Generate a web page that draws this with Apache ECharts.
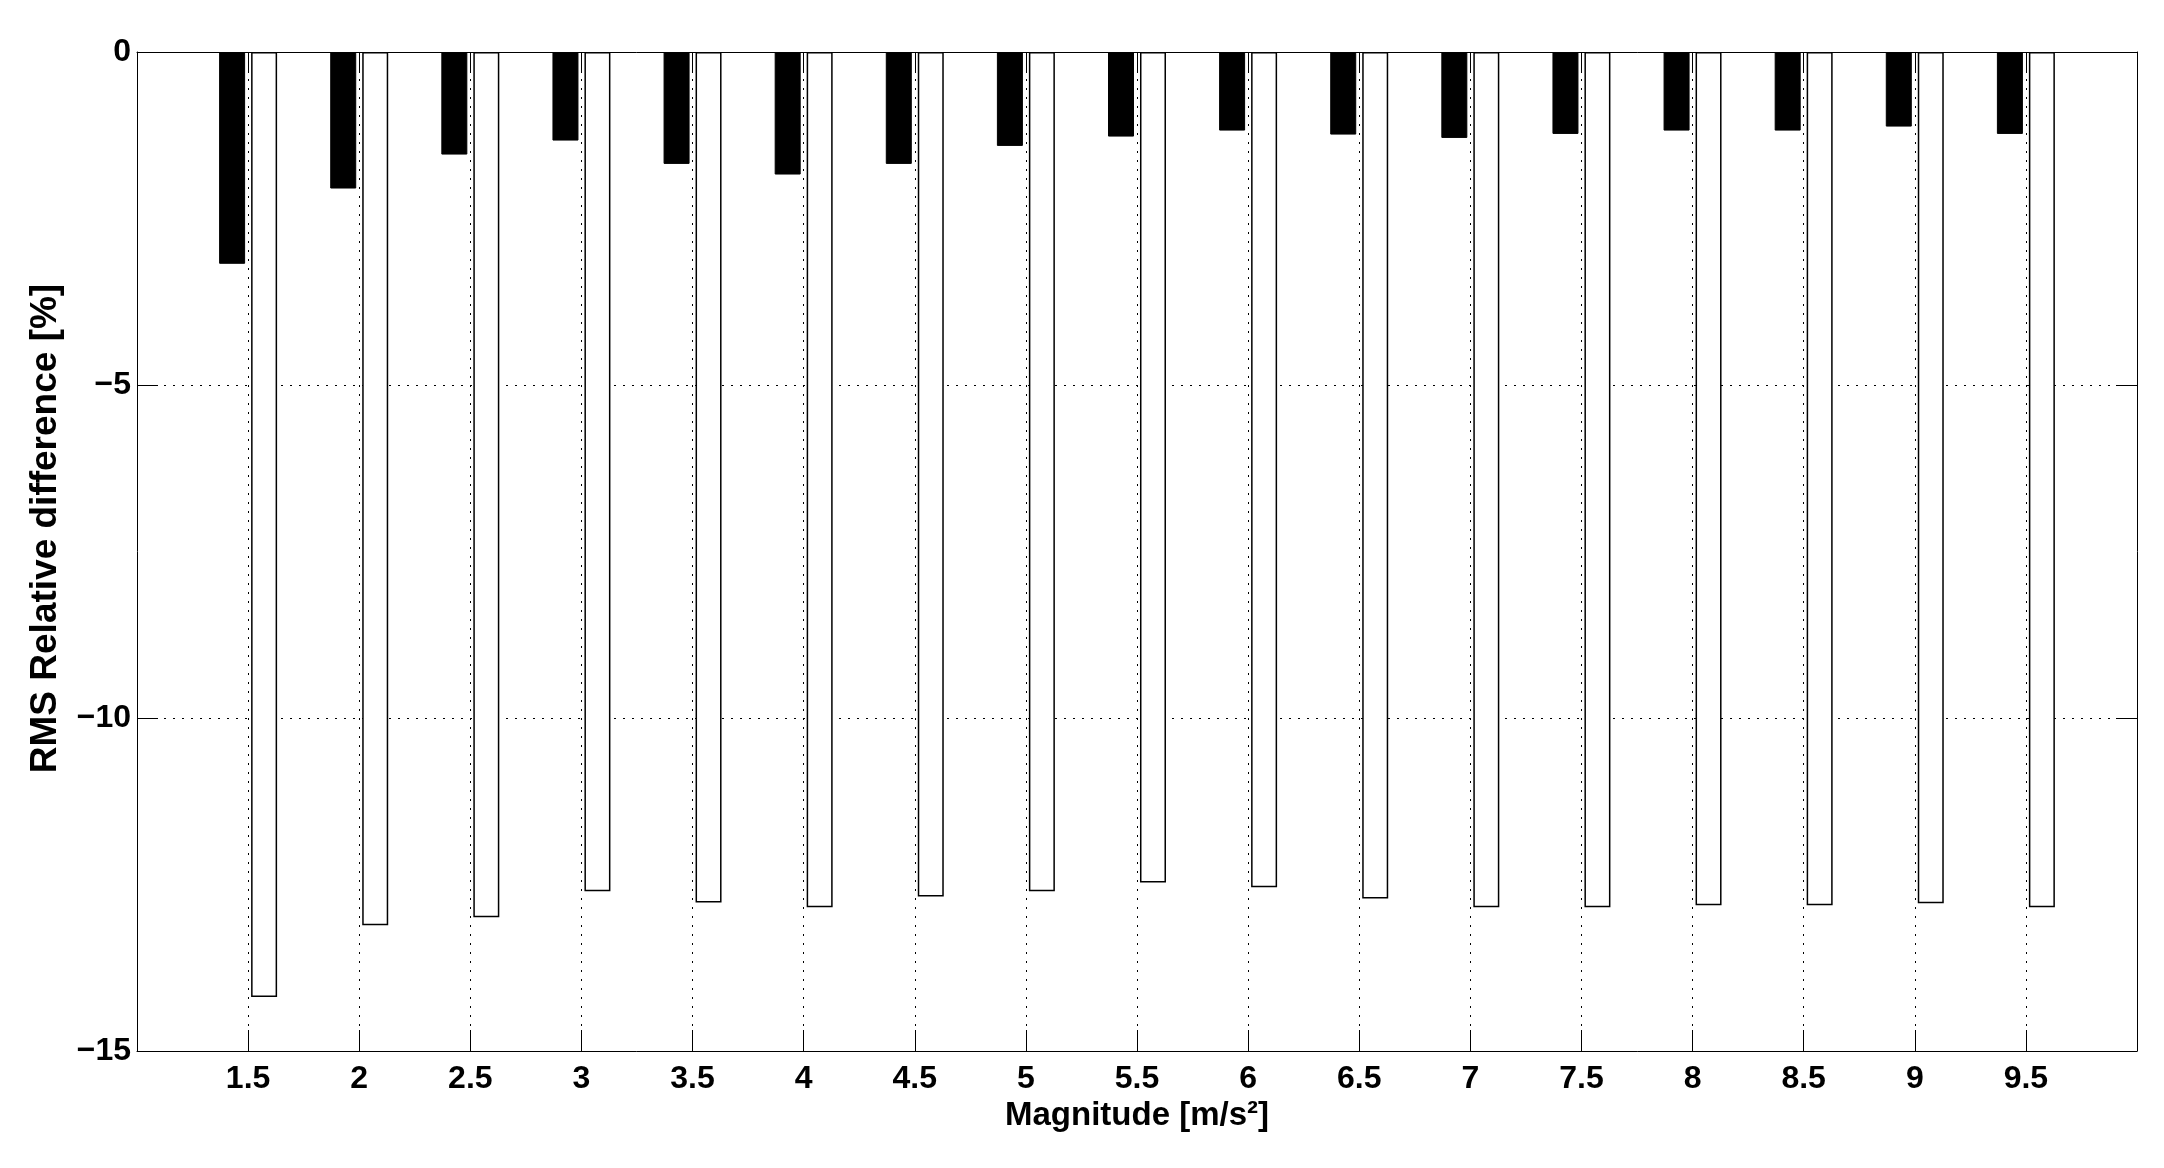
<!DOCTYPE html>
<html><head><meta charset="utf-8">
<script src="https://cdn.jsdelivr.net/npm/echarts@6/dist/echarts.min.js"></script>
<style>html,body{margin:0;padding:0;background:#fff}#c{width:2164px;height:1168px}</style>
</head><body><div id="c"></div>
<script>
const magnitudes = [1.5, 2, 2.5, 3, 3.5, 4, 4.5, 5, 5.5, 6, 6.5, 7, 7.5, 8, 8.5, 9, 9.5];
const blackValues = [-3.18, -2.05, -1.54, -1.33, -1.68, -1.84, -1.68, -1.41, -1.27, -1.18, -1.24, -1.29, -1.23, -1.18, -1.18, -1.12, -1.23];
const whiteValues = [-14.19, -13.11, -12.99, -12.60, -12.77, -12.84, -12.68, -12.60, -12.47, -12.54, -12.71, -12.84, -12.84, -12.81, -12.81, -12.78, -12.84];
const xName = 'Magnitude [m/s²]';
const yName = 'RMS Relative difference [%]';

const FONT = '"Liberation Sans", Arial, Helvetica, sans-serif';
const chart = echarts.init(document.getElementById('c'), null, {renderer: 'canvas'});
const dotted = {show: true, lineStyle: {color: '#000', width: 1, type: [2, 7]}};
const tickStyle = {show: true, inside: true, length: 21, lineStyle: {color: '#000', width: 1}};
const lineStyle = {show: true, onZero: false, lineStyle: {color: '#000', width: 1}};

chart.setOption({
  animation: false,
  backgroundColor: '#fff',
  grid: {left: 137, right: 27, top: 52, bottom: 117, containLabel: false},
  xAxis: [{
    type: 'value', min: 1, max: 10, interval: 0.5, position: 'bottom',
    axisLine: lineStyle, axisTick: tickStyle, splitLine: dotted,
    axisLabel: {
      color: '#000', fontFamily: FONT, fontWeight: 'bold', fontSize: 32, margin: 12,
      formatter: v => (v <= 1 || v >= 10) ? '' : String(v)
    },
    name: xName, nameLocation: 'middle', nameGap: 44,
    nameTextStyle: {color: '#000', fontFamily: FONT, fontWeight: 'bold', fontSize: 33}
  }, {
    type: 'value', min: 1, max: 10, interval: 0.5, position: 'top',
    axisLine: lineStyle, axisTick: tickStyle, splitLine: {show: false}, axisLabel: {show: false}
  }],
  yAxis: [{
    type: 'value', min: -15, max: 0, interval: 5, position: 'left',
    axisLine: lineStyle, axisTick: tickStyle, splitLine: dotted,
    axisLabel: {
      color: '#000', fontFamily: FONT, fontWeight: 'bold', fontSize: 32, margin: 6,
      formatter: v => v < 0 ? '\u2212' + Math.abs(v) : String(v)
    },
    name: yName, nameLocation: 'middle', nameGap: 73, nameRotate: 90,
    nameTextStyle: {color: '#000', fontFamily: FONT, fontWeight: 'bold', fontSize: 37, padding: [0, 0, 0, 46]}
  }, {
    type: 'value', min: -15, max: 0, interval: 5, position: 'right',
    axisLine: lineStyle, axisTick: tickStyle, splitLine: {show: false}, axisLabel: {show: false}
  }],
  series: [{
    type: 'bar', xAxisIndex: 0, yAxisIndex: 0,
    data: magnitudes.map((m, i) => [m, blackValues[i]]),
    barWidth: 26, barGap: '23%',
    itemStyle: {color: '#000', borderColor: '#000', borderWidth: 1}
  }, {
    type: 'bar', xAxisIndex: 0, yAxisIndex: 0,
    data: magnitudes.map((m, i) => [m, whiteValues[i]]),
    barWidth: 26, barGap: '23%',
    itemStyle: {color: '#fff', borderColor: '#000', borderWidth: 1.5}
  }]
});
</script></body></html>
